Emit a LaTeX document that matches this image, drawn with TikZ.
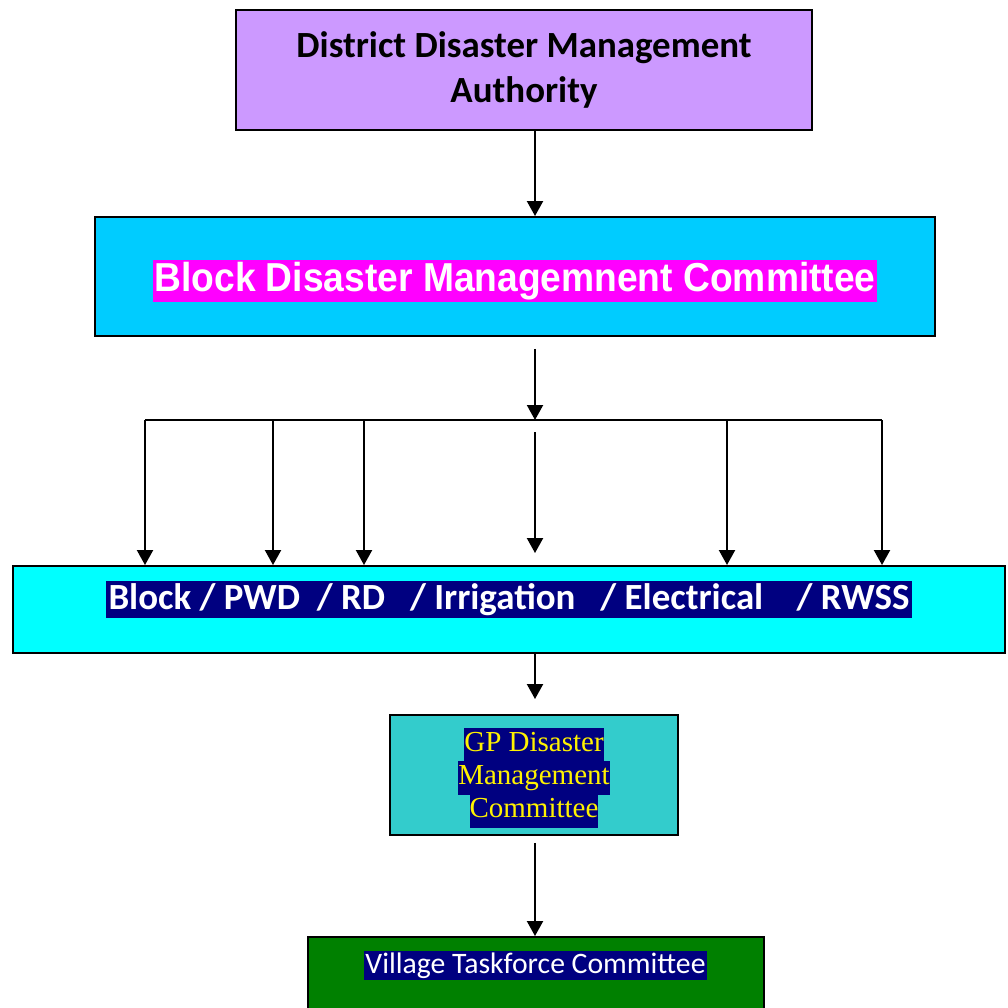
\documentclass[tikz,border=0pt]{standalone}
\usepackage{fontspec}
\usetikzlibrary{arrows.meta}
\newfontfamily\calibri{Carlito}
\newfontfamily\arialfont{Liberation Sans}
\newfontfamily\timesfont{Liberation Serif}
\definecolor{lavender}{HTML}{CC99FF}
\definecolor{skyblue}{HTML}{00CCFF}
\definecolor{hotpink}{HTML}{FF00FF}
\definecolor{aqua}{HTML}{00FFFF}
\definecolor{navy}{HTML}{000080}
\definecolor{tealbox}{HTML}{33CCCC}
\definecolor{darkgreen}{HTML}{008000}
\newcommand{\hl}[1]{{\fboxsep=0pt\colorbox{navy}{\strut #1}}}

\tikzset{
  box/.style={draw=black, line width=1.1pt, inner sep=0pt},
  arr/.style={-{Triangle[length=0.3cm,width=0.32cm]}, line width=1.2pt}
}

\begin{document}
\begin{tikzpicture}
\useasboundingbox (0,0) rectangle (20.16,-20.16);

\node[box, fill=lavender, minimum width=11.52cm, minimum height=2.4cm, align=center,
  font=\calibri\bfseries\fontsize{21}{26}\selectfont] (ddma) at (10.48,-1.4)
  {District Disaster Management\\Authority};
\node[box, fill=skyblue, minimum width=16.8cm, minimum height=2.38cm] (bdmc) at (10.3,-5.53) {};
\node[fill=hotpink, text=white, inner sep=1pt, font=\arialfont\bfseries\fontsize{23}{26}\selectfont]
  (bdmctext) at (10.3,-5.62) {\scalebox{0.92}[1]{Block Disaster Managemnent Committee}};

\node[box, fill=aqua, minimum width=19.84cm, minimum height=1.74cm] (dept) at (10.18,-12.19) {};
\node[fill=navy, text=white, inner sep=1.5pt, font=\calibri\bfseries\fontsize{21}{24}\selectfont]
  (depttext) at (10.18,-11.99)
  {Block / PWD\ \ / RD\ \ \ / Irrigation\ \ \ / Electrical\ \ \ \ / RWSS};

\node[box, fill=tealbox, minimum width=5.76cm, minimum height=2.4cm] (gp) at (10.68,-15.5) {};
\node[align=center, text=yellow, inner sep=0pt, font=\timesfont\fontsize{16.5}{18.8}\selectfont]
  (gptext) at (10.68,-15.56) {\hl{GP Disaster}\\\hl{Management}\\\hl{Committee}};

\node[box, fill=darkgreen, minimum width=9.12cm, minimum height=2cm] (village) at (10.72,-19.74) {};
\node[fill=navy, text=white, inner sep=1pt, font=\calibri\fontsize{16.9}{19}\selectfont]
  (villagetext) at (10.71,-19.31) {Village Taskforce Committee};

% spine and bus
\coordinate (hub) at (10.7,-8.4);
\draw[arr] (ddma.south -| hub) -- (bdmc.north -| hub);
\draw[arr, shorten <=0.24cm] (bdmc.south -| hub) -- (hub);
\coordinate (bl) at (2.9,-8.4);
\coordinate (br) at (17.64,-8.4);
\draw[line width=1.2pt] (bl) -- (br);
\foreach \x [count=\i] in {2.9,5.46,7.28,14.54,17.64} {
  \coordinate (d\i) at (\x,-8.4);
  \draw[arr] (d\i) -- (d\i |- dept.north);
}
\draw[arr, shorten <=0.24cm, shorten >=0.24cm] (hub) -- (hub |- dept.north);
\draw[arr, shorten >=0.3cm] (dept.south -| hub) -- (gp.north -| hub);
\draw[arr, shorten <=0.14cm] (gp.south -| hub) -- (village.north -| hub);
\end{tikzpicture}
\end{document}
